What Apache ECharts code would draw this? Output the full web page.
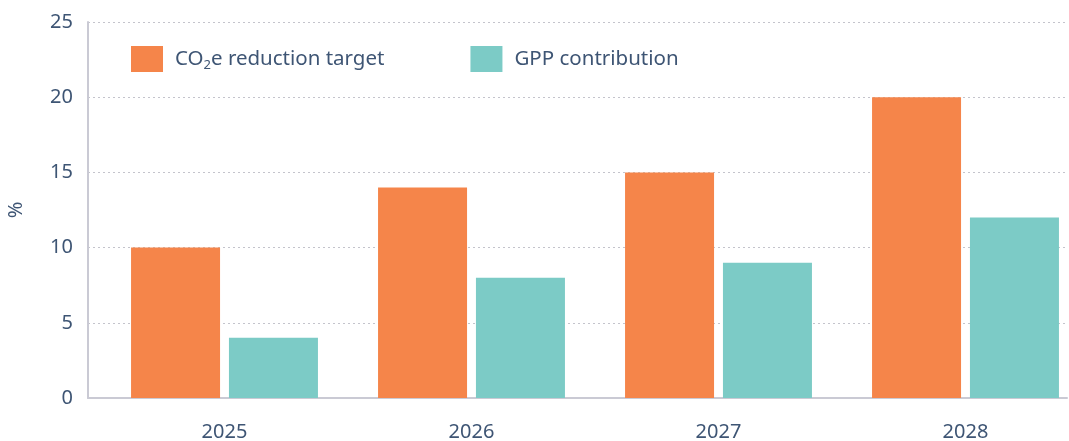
<!DOCTYPE html>
<html lang="en">
<head>
    <meta charset="UTF-8">
    <title>CO2e reduction</title>
    <script src="https://cdn.jsdelivr.net/npm/echarts@6/dist/echarts.min.js"></script>
</head>
<body style="margin:0">
<div style="width:1069px;height:441px" id="picture"></div>
<script>
    var years = ['2025', '2026', '2027', '2028'];
    var target = [10, 14, 15, 20];
    var gpp = [4, 8, 9, 12];
    var yTicks = [0, 5, 10, 15, 20, 25];

    var textColor = '#3e5574';
    var font = '"Noto Sans", sans-serif';

    var myChart = echarts.init(document.getElementById('picture'));
    var option = {
        textStyle: { fontFamily: font },
        legend: {
            left: 126,
            top: 41,
            itemWidth: 32,
            itemHeight: 26,
            itemGap: 86,
            icon: 'rect',
            textStyle: {
                color: textColor,
                fontSize: 20.5,
                fontFamily: font,
                padding: [0, 0, 0, 7],
                rich: {
                    sub: { fontSize: 13, color: textColor, fontFamily: font, padding: [12, 0, 0, 0] }
                }
            },
            formatter: function (name) {
                if (name === 'target') return 'CO{sub|2}e reduction target';
                return 'GPP contribution';
            },
            data: ['target', 'gpp']
        },
        grid: [
            { left: 88, right: 2, top: 22, bottom: 43, outerBoundsMode: 'none' },
            { left: 101, width: 988, top: 22, bottom: 43, outerBoundsMode: 'none' }
        ],
        xAxis: [
            {
                gridIndex: 0,
                type: 'value',
                min: 0, max: 1,
                axisLine: { show: true, onZero: false, lineStyle: { color: '#cacad4', width: 2 } },
                axisTick: { show: false },
                axisLabel: { show: false },
                splitLine: { show: false }
            },
            {
                gridIndex: 1,
                type: 'category',
                data: years,
                axisLine: { show: false },
                axisTick: { show: false },
                axisLabel: { color: textColor, fontSize: 20, margin: 24, fontFamily: font }
            }
        ],
        yAxis: [
            {
                gridIndex: 0,
                type: 'value',
                min: yTicks[0],
                max: yTicks[yTicks.length - 1],
                interval: 5,
                name: '%',
                nameLocation: 'middle',
                nameGap: 62,
                nameTextStyle: { color: textColor, fontSize: 20, fontFamily: font },
                axisLine: { show: true, lineStyle: { color: '#cacad4', width: 2 } },
                axisTick: { show: false },
                axisLabel: { color: textColor, fontSize: 20, margin: 15, fontFamily: font },
                splitLine: { lineStyle: { color: '#c4c4cc', type: [2, 3], width: 1 } }
            },
            {
                gridIndex: 1,
                type: 'value',
                min: yTicks[0],
                max: yTicks[yTicks.length - 1],
                show: false
            }
        ],
        series: [
            {
                name: 'target',
                type: 'bar',
                xAxisIndex: 1,
                yAxisIndex: 1,
                data: target,
                barWidth: 89,
                barGap: '10%',
                itemStyle: { color: '#f5854a' }
            },
            {
                name: 'gpp',
                type: 'bar',
                xAxisIndex: 1,
                yAxisIndex: 1,
                data: gpp,
                barWidth: 89,
                itemStyle: { color: '#7ccbc6' }
            }
        ]
    };
    myChart.setOption(option);
</script>
</body>
</html>
